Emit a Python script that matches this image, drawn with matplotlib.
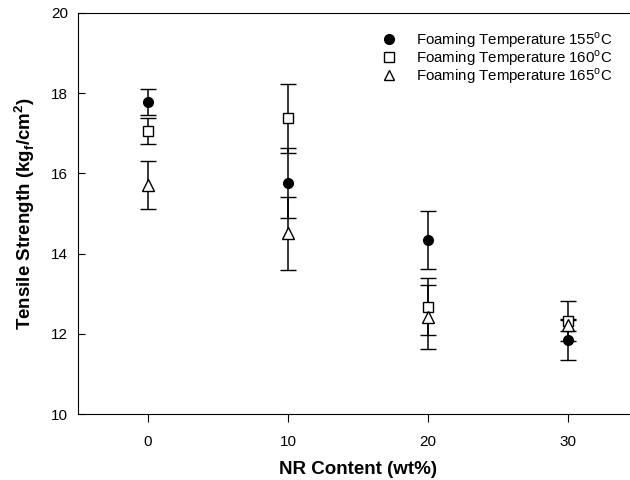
import matplotlib.pyplot as plt

plt.rcParams['font.family'] = ['Liberation Sans', 'DejaVu Sans']
plt.rcParams['mathtext.fontset'] = 'custom'
plt.rcParams['mathtext.rm'] = 'Liberation Sans'
plt.rcParams['mathtext.bf'] = 'Liberation Sans:bold'

# NR content (wt%)
nr = [0, 10, 20, 30]

# tensile strength and error for each foaming temperature
t155 = [17.78, 15.76, 14.34, 11.85]
e155 = [0.32, 0.87, 0.72, 0.50]
t160 = [17.05, 17.37, 12.68, 12.33]
e160 = [0.32, 0.87, 0.72, 0.50]
t165 = [15.72, 14.51, 12.41, 12.23]
e165 = [0.60, 0.91, 0.80, 0.15]

labels = ['Foaming Temperature 155$^{\\mathrm{o}}$C',
          'Foaming Temperature 160$^{\\mathrm{o}}$C',
          'Foaming Temperature 165$^{\\mathrm{o}}$C']

fig = plt.figure(figsize=(6.3, 4.8), dpi=100)
# axes run off the right edge of the picture, like the original scan
ax = fig.add_axes([78 / 630, 66 / 480, 560 / 630, 401 / 480])

kw = dict(ecolor='black', elinewidth=1.1, capsize=6, capthick=1.1,
          linestyle='none', markeredgecolor='black', markeredgewidth=1.0)
ax.errorbar(nr, t155, yerr=e155, marker='o', markersize=7,
            markerfacecolor='black', **kw)
ax.errorbar(nr, t160, yerr=e160, marker='s', markersize=7,
            markerfacecolor='white', **kw)
ax.errorbar(nr, t165, yerr=e165, marker='^', markersize=8,
            markerfacecolor='white', **kw)

ax.set_xlim(-5, 35)
ax.set_ylim(10, 20)
ax.set_xticks(nr)
ax.set_yticks([10, 12, 14, 16, 18, 20])
ax.tick_params(axis='y', direction='in', length=5, labelsize=11, pad=7)
ax.tick_params(axis='x', direction='out', length=6, labelsize=11, pad=9)
ax.spines['right'].set_visible(False)

ax.set_xlabel('NR Content (wt%)', fontsize=13.5, fontweight='bold', labelpad=9)
ax.set_ylabel('Tensile Strength (kg$_\\mathbf{f}$/cm$^\\mathbf{2}$)',
              fontsize=13.5, fontweight='bold', labelpad=10)

# legend with markers only
h1, = ax.plot([], [], 'o', color='black', markersize=7)
h2, = ax.plot([], [], 's', markerfacecolor='white', markeredgecolor='black', markersize=7)
h3, = ax.plot([], [], '^', markerfacecolor='white', markeredgecolor='black', markersize=7)
ax.legend([h1, h2, h3], labels, loc='upper left', frameon=False,
          bbox_to_anchor=(368 / 630, 1 - 24 / 480), bbox_transform=fig.transFigure,
          fontsize=10.8, handlelength=2.0, handletextpad=0.8, labelspacing=-0.12,
          borderaxespad=0)

fig.savefig('out.png', dpi=100)
